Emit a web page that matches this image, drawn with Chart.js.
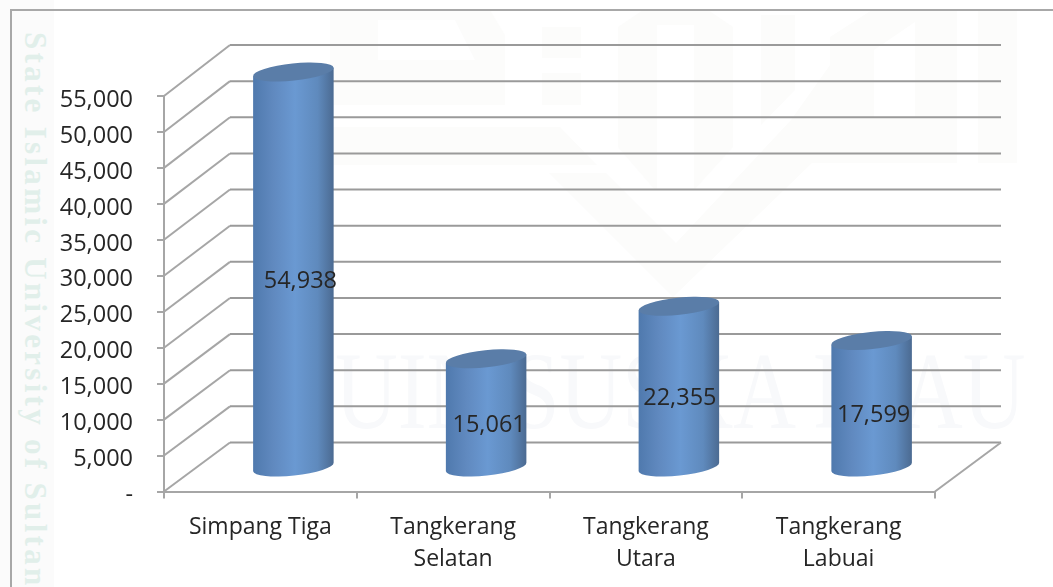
<!DOCTYPE html>
<html>
<head>
<meta charset="utf-8">
<title>Simpang Tiga</title>
<script src="https://cdn.jsdelivr.net/npm/chart.js@4"></script>
<style>
    html, body { margin: 0; padding: 0; background: #fff; }
    #page { position: relative; width: 1053px; height: 587px; overflow: hidden; }
    #frame { position: absolute; left: 10px; top: 9px; width: 1060px; height: 600px; border: 2px solid #a8a8a8; box-sizing: border-box; }
    #strip { position: absolute; left: 0; top: 0; width: 54px; height: 587px; background: #fbfbfb; }
    #sideMark { position: absolute; left: 17px; top: 32px; writing-mode: vertical-rl; white-space: nowrap;
        font: bold 31px "Liberation Serif", serif; letter-spacing: 3.3px; color: #e1efea; }
    #bigMark { position: absolute; left: 335px; top: 336px; white-space: nowrap; line-height: 1;
        font-family: "Liberation Serif", serif; font-size: 110px; color: #f8f9fb;
        transform: scaleX(0.79); transform-origin: left top; }
    #logo { position: absolute; left: 0; top: 0; }
    canvas { position: absolute; left: 0; top: 0; }
</style>
</head>
<body>
<div id="page">
    <div id="strip"></div>
    <svg id="logo" width="1053" height="587" fill="#fcfcfb">
        <path d="M330 10H490L505 35V105H330Z M378 20V60H475L455 20Z" fill-rule="evenodd"/>
        <rect x="542" y="27" width="39" height="31"/>
        <rect x="542" y="73" width="39" height="32"/>
        <path d="M330 127H560L597 165H330Z"/>
        <path d="M618 27L643 10H708L733 27V147L694 190H655L618 147Z M657 25V190H694V25Z" fill-rule="evenodd"/>
        <path d="M761 15H795V90L761 125Z"/>
        <path d="M549 173H606L676 243L791 120L830 65V37L872 10H957V163H812L673 297Z M874 50V118H915V22Z" fill-rule="evenodd"/>
        <rect x="978" y="10" width="39" height="153"/>
    </svg>
    <div id="bigMark">UIN SUSKA RIAU</div>
    <div id="sideMark">State Islamic University of Sultan</div>
    <div id="frame"></div>
    <canvas id="cylinderChart" width="1053" height="587"></canvas>
</div>
<script>
const categories = [['Simpang Tiga'], ['Tangkerang', 'Selatan'], ['Tangkerang', 'Utara'], ['Tangkerang', 'Labuai']];
const penduduk = [54938, 15061, 22355, 17599];
const tickStep = 5000;
const tickMax = 55000;

const lineColor = '#a6a6a6';
const wallLineColor = '#9a9a9a';
const textColor = '#262626';
const fontFamily = '"Open Sans", "Noto Sans", sans-serif';
const depthX = 66, depthY = 49;
const labelShiftX = [7, 3, 1, 2];

function fmt(v) {
    return v.toLocaleString('en-US');
}

const wallPlugin = {
    id: 'wall',
    beforeDatasetsDraw(chart) {
        const ctx = chart.ctx, yScale = chart.scales.y, area = chart.chartArea;
        const backX = area.left + depthX, backRight = area.right + depthX;
        ctx.save();
        ctx.lineWidth = 2;
        yScale.ticks.forEach(function (t) {
            const y = yScale.getPixelForValue(t.value);
            // back wall is a touch taller than the front axis
            const backY = area.bottom - depthY - (area.bottom - y) * 1.005;
            ctx.strokeStyle = lineColor;
            ctx.beginPath();
            ctx.moveTo(area.left, y);
            ctx.lineTo(backX, backY);
            ctx.stroke();
            ctx.strokeStyle = wallLineColor;
            ctx.beginPath();
            ctx.moveTo(backX, backY);
            ctx.lineTo(backRight, backY);
            ctx.stroke();
        });
        // floor edge on the right side
        ctx.strokeStyle = lineColor;
        ctx.beginPath();
        ctx.moveTo(area.right, area.bottom);
        ctx.lineTo(backRight, area.bottom - depthY);
        ctx.stroke();
        ctx.restore();
    }
};

const cylinderPlugin = {
    id: 'cylinders',
    afterDatasetsDraw(chart) {
        const ctx = chart.ctx;
        const rot = -6 * Math.PI / 180, ry = 8.6;
        chart.getDatasetMeta(0).data.forEach(function (bar, i) {
            const rx = bar.width / 2;
            const cx = bar.x + depthX / 2;
            const topY = bar.y - depthY / 2;
            const baseY = bar.base - depthY / 2 + 1;
            const dx = rx * Math.cos(rot), dy = rx * Math.sin(rot);

            const grad = ctx.createLinearGradient(cx - rx, 0, cx + rx, 0);
            grad.addColorStop(0, '#4f79ad');
            grad.addColorStop(0.25, '#6089bf');
            grad.addColorStop(0.52, '#6a99d2');
            grad.addColorStop(0.8, '#5f8abd');
            grad.addColorStop(1, '#4b6a91');

            ctx.save();
            ctx.beginPath();
            ctx.moveTo(cx - dx, topY - dy);
            ctx.lineTo(cx - dx, baseY - dy);
            ctx.ellipse(cx, baseY, rx, ry, rot, Math.PI, 0, true);
            ctx.lineTo(cx + dx, topY + dy);
            ctx.closePath();
            ctx.fillStyle = grad;
            ctx.fill();

            ctx.beginPath();
            ctx.ellipse(cx, topY, rx, ry, rot, 0, Math.PI * 2);
            ctx.fillStyle = '#5a7da8';
            ctx.fill();

            ctx.fillStyle = textColor;
            ctx.font = '23.5px ' + fontFamily;
            ctx.textAlign = 'center';
            ctx.textBaseline = 'middle';
            ctx.fillText(fmt(penduduk[i]), cx + labelShiftX[i], (topY + baseY) / 2 + 12);
            ctx.restore();
        });
    }
};

new Chart(document.getElementById('cylinderChart'), {
    type: 'bar',
    data: {
        labels: categories,
        datasets: [{
            data: penduduk,
            backgroundColor: 'transparent',
            categoryPercentage: 1,
            barPercentage: 0.42
        }]
    },
    options: {
        responsive: false,
        animation: false,
        layout: { padding: { top: 96, right: 118, left: 0, bottom: 0 } },
        plugins: { legend: { display: false }, tooltip: { enabled: false } },
        scales: {
            x: {
                afterFit(scale) { scale.height = 95.5; },
                grid: { drawOnChartArea: false, color: lineColor, lineWidth: 2, tickLength: 7 },
                border: { color: lineColor, width: 2 },
                ticks: { color: textColor, font: { family: fontFamily, size: 23, lineHeight: 1.39 }, padding: 13, maxRotation: 0 }
            },
            y: {
                min: 0,
                max: tickMax,
                afterFit(scale) { scale.width = 164; },
                grid: { drawOnChartArea: false, color: lineColor, lineWidth: 2, tickLength: 7 },
                border: { color: lineColor, width: 2 },
                ticks: {
                    stepSize: tickStep,
                    color: textColor,
                    font: { family: fontFamily, size: 23.5 },
                    padding: 24,
                    labelOffset: 4,
                    callback: function (v) { return v === 0 ? '-' : fmt(v); }
                }
            }
        }
    },
    plugins: [wallPlugin, cylinderPlugin]
});
</script>
</body>
</html>
